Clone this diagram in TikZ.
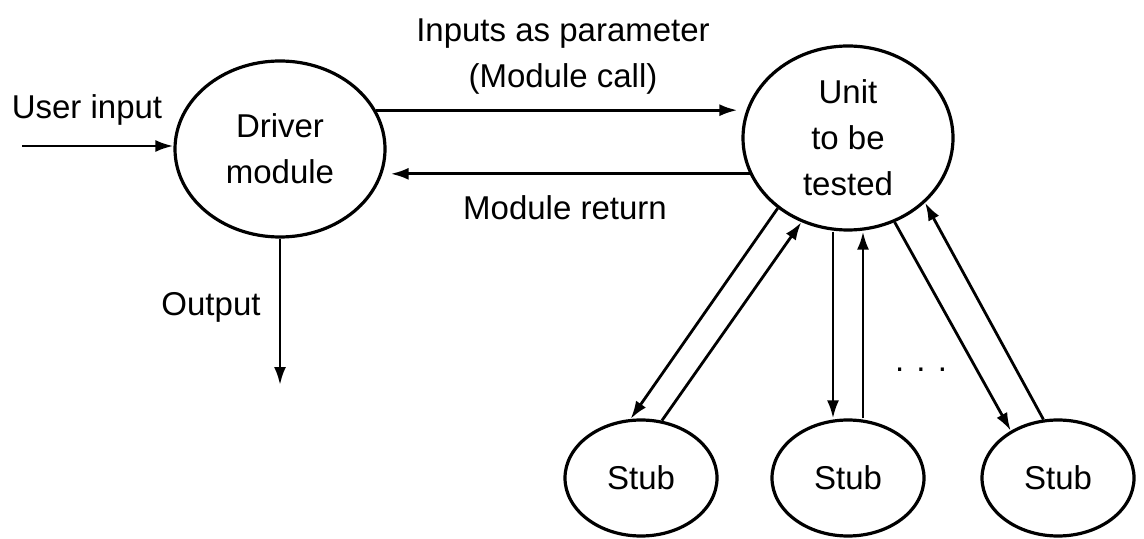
\documentclass[tikz,border=0pt]{standalone}
\usepackage{fontspec}
\setmainfont{Liberation Sans}
\usetikzlibrary{shapes.geometric,arrows.meta}

\begin{document}
\begin{tikzpicture}[x=0.5pt, y=-0.5pt,
    font=\fontsize{16.5}{23}\selectfont,
    blob/.style 2 args={ellipse, draw, line width=1.6pt, inner sep=0pt,
                        minimum width=#1, minimum height=#2, align=center},
    stubnode/.style={blob={76pt}{58pt}},
    txt/.style={align=center, inner sep=0pt},
    arr/.style={-{Latex[length=9pt,width=6pt]}, line width=1.4pt}
]
\useasboundingbox (0,0) rectangle (1144,539);

\node[blob={105pt}{88pt}] (driver) at (280,149) {Driver\\module};
\node[blob={105pt}{92pt}] (unit) at (848,138) {Unit\\to be\\tested};
\node[stubnode] (stub1) at (641,478) {Stub};
\node[stubnode] (stub2) at (848,478) {Stub};
\node[stubnode] (stub3) at (1058,478) {Stub};

\coordinate (userin) at (22,146);
\coordinate (out) at (280,385);

\node[txt] (lbluser) at (87,110) {User input};
\node[txt] (lblcall) at (563,57) {Inputs as parameter\\(Module call)};
\node[txt] (lblret) at (565,208) {Module return};
\node[txt] (lblout) at (211,307) {Output};
\node[txt] (dots) at (921,370) {. . .};

\draw[arr] (userin) -- (userin -| driver.west);
\draw[arr, shorten >=2pt] (driver.22) -- (driver.22 -| unit.west);
\draw[arr, shorten >=2pt] (unit.200) -- (unit.200 -| driver.east);
\draw[arr] (driver.south) -- (out);

\draw[arr] (unit.225) -- (stub1.100);
\draw[arr] (stub1.70) -- (unit.241);
\draw[arr] ([xshift=-7.5pt]unit.south) -- ([xshift=-7.5pt]stub2.north);
\draw[arr] ([xshift=7.5pt]stub2.north) -- ([xshift=7.5pt]unit.south);
\draw[arr] (unit.299) -- (stub3.135);
\draw[arr] (stub3.104) -- (unit.320);
\end{tikzpicture}
\end{document}
